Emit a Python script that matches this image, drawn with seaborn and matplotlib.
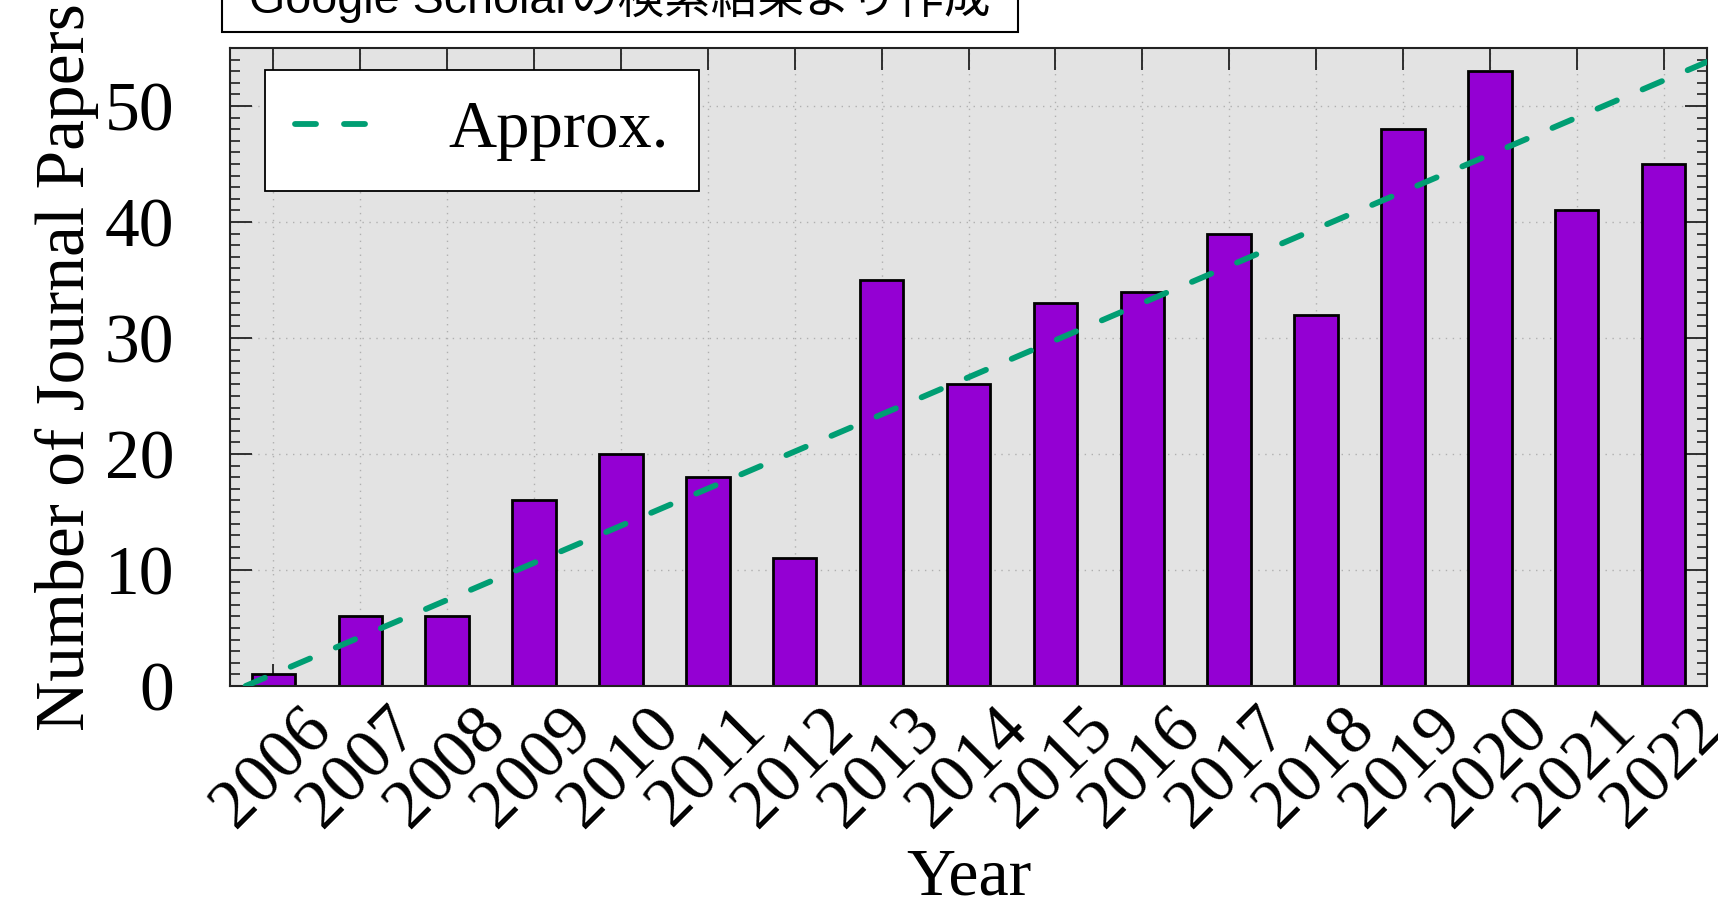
import matplotlib
matplotlib.use("Agg")
import matplotlib.pyplot as plt
from matplotlib.patches import Rectangle
from matplotlib.ticker import MultipleLocator
import seaborn as sns

# Journal papers per year (Google Scholar search)
years = [2006, 2007, 2008, 2009, 2010, 2011, 2012, 2013, 2014,
         2015, 2016, 2017, 2018, 2019, 2020, 2021, 2022]
paper_counts = [1, 6, 6, 16, 20, 18, 11, 35, 26, 33, 34, 39, 32, 48, 53, 41, 45]
year_labels = [str(y) for y in years]

# Linear approximation, given by its two end points (year, papers)
approx_years = [2005.68, 2022.5]
approx_counts = [0.0, 53.8]

source_note = "Google Scholarの検索結果より作成"

BAR_COLOR = "#9400D3"
LINE_COLOR = "#009E73"
PANEL_COLOR = "#E3E3E3"

sns.set_theme(style="ticks")
plt.rcParams["font.family"] = ["Liberation Serif", "DejaVu Serif"]
plt.rcParams.update({
    "text.color": "black",
    "axes.labelcolor": "black",
    "xtick.color": "black",
    "ytick.color": "black",
})

W, H = 1718, 905
fig = plt.figure(figsize=(W / 100, H / 100), dpi=100)
ax = fig.add_axes([230 / W, 1 - 686 / H, 1477 / W, 638 / H])
ax.set_facecolor(PANEL_COLOR)

sns.barplot(x=year_labels, y=paper_counts, ax=ax, color=BAR_COLOR,
            saturation=1, width=0.5, edgecolor="black", linewidth=2.0,
            errorbar=None, zorder=2)

# approximation line on the categorical positions
approx_pos = [y - years[0] for y in approx_years]
ax.plot(approx_pos, approx_counts, color=LINE_COLOR, linewidth=4.2,
        linestyle=(0, (3.6, 4.8)), dash_capstyle="round",
        solid_capstyle="round", label="Approx.", zorder=3)

ax.set_xlim(-0.5, len(years) - 0.5)
ax.set_ylim(0, 55)
ax.set_axisbelow(True)
ax.yaxis.set_major_locator(MultipleLocator(10))
ax.yaxis.set_minor_locator(MultipleLocator(1))

ax.grid(True, which="major", linestyle=(0, (1, 4)), color="#b0b0b0",
        linewidth=1.0)

ax.tick_params(axis="both", which="both", direction="in", top=True,
               right=True, color="#222222")
ax.tick_params(which="major", length=16, width=1.3)
ax.tick_params(axis="y", which="minor", length=7.5, width=1.2)
ax.tick_params(axis="y", labelsize=50, pad=40)
ax.tick_params(axis="x", labelsize=50, pad=8, labelrotation=45)

for s in ax.spines.values():
    s.set_color("#222222")
    s.set_linewidth(1.5)

ax.set_xlabel("Year", fontsize=49, labelpad=5)
ax.set_ylabel("Number of Journal Papers", fontsize=50, labelpad=4)

leg = ax.legend(loc="upper left", bbox_to_anchor=(0.0237, 0.9655),
                borderaxespad=0, fontsize=48, frameon=True, fancybox=False,
                framealpha=1, edgecolor="black", borderpad=0.45,
                handlelength=1.2, handletextpad=1.1)
leg.get_frame().set_linewidth(1.3)

# source note box at the top, partly above the figure edge
fig.patches.append(Rectangle((222 / W, 1 - 32 / H), (1018 - 222) / W, 60 / H,
                             transform=fig.transFigure, facecolor="white",
                             edgecolor="black", linewidth=1.5, zorder=5))
fig.text(249 / W, 1 - 13 / H, source_note, fontsize=33.6, ha="left",
         va="baseline", family=["Liberation Sans", "Noto Sans CJK JP"],
         zorder=6)

fig.savefig("out.png", dpi=100)
